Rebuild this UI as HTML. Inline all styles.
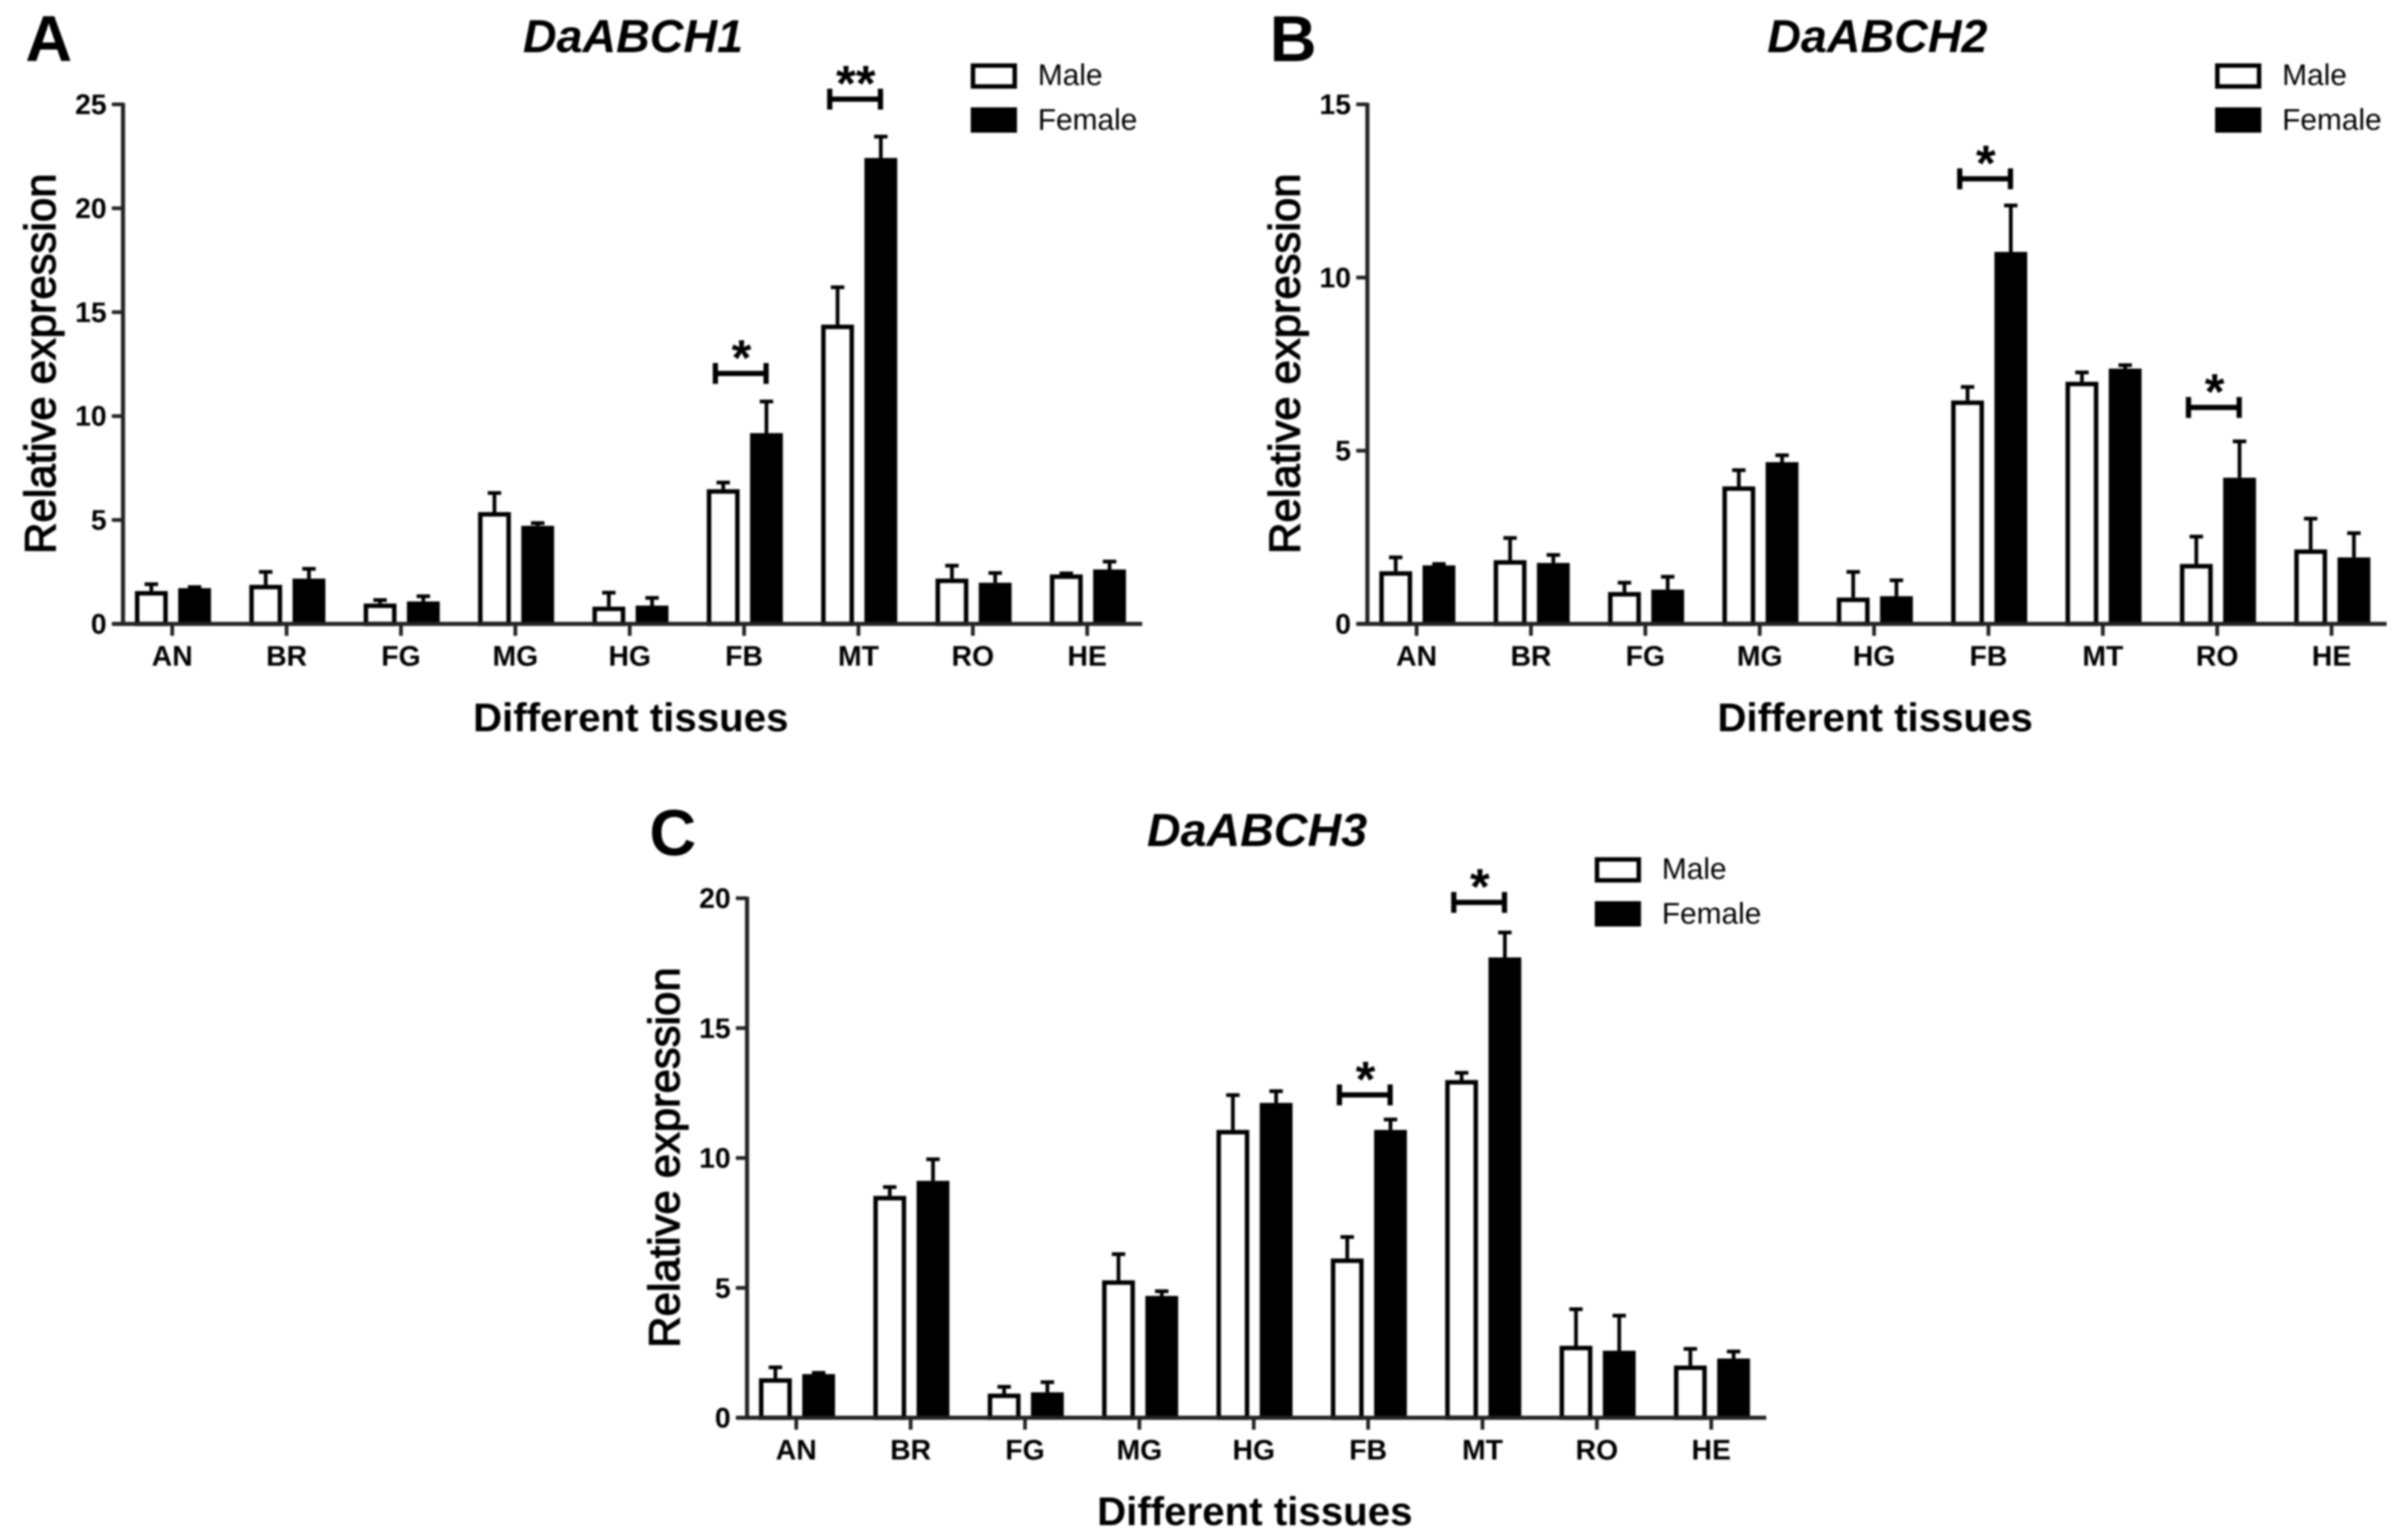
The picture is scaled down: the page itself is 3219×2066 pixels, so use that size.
<!DOCTYPE html>
<html lang="en">
<head>
<meta charset="utf-8">
<title>DaABCH relative expression in different tissues</title>
<style>
html,body{margin:0;padding:0;background:#fff;}
body{width:3219px;height:2066px;overflow:hidden;}
#figure{display:block;filter:blur(1.4px);}
text{font-family:"Liberation Sans",Arial,sans-serif;fill:#000;}
</style>
</head>
<body>
<svg id="figure" width="3219" height="2066" viewBox="0 0 3219 2066" xmlns="http://www.w3.org/2000/svg"></svg>
<script>
const categories = ['AN','BR','FG','MG','HG','FB','MT','RO','HE'];

const geneA = 'DaABCH1';
const ticksA = [0,5,10,15,20,25];
const maleA = [1.58,1.88,0.98,5.38,0.83,6.48,14.4,2.18,2.38];
const femaleA = [1.72,2.18,1.08,4.72,0.88,9.18,22.42,1.98,2.62];
const maleErrA = [0.33,0.62,0.17,0.92,0.67,0.32,1.8,0.62,0.05];
const femaleErrA = [0.05,0.47,0.25,0.13,0.37,1.52,1.03,0.47,0.38];
const sigCatsA = ['FB','MT'];
const sigLevelsA = [12.05,25.25];
const sigLabelsA = ['*','**'];

const geneB = 'DaABCH2';
const ticksB = [0,5,10,15];
const maleB = [1.52,1.84,0.92,3.97,0.76,6.45,6.99,1.73,2.15];
const femaleB = [1.69,1.76,0.99,4.67,0.8,10.74,7.37,4.22,1.92];
const maleErrB = [0.4,0.64,0.27,0.47,0.74,0.39,0.27,0.79,0.89];
const femaleErrB = [0.04,0.23,0.37,0.2,0.46,1.34,0.1,1.05,0.7];
const sigCatsB = ['FB','RO'];
const sigLevelsB = [12.85,6.25];
const sigLabelsB = ['*','*'];

const geneC = 'DaABCH3';
const ticksC = [0,5,10,15,20];
const maleC = [1.52,8.54,0.93,5.29,11.08,6.13,13.0,2.77,2.01];
const femaleC = [1.68,9.12,0.98,4.69,12.12,11.08,17.72,2.58,2.28];
const maleErrC = [0.42,0.34,0.26,1.01,1.34,0.83,0.28,1.41,0.64];
const femaleErrC = [0.05,0.83,0.39,0.18,0.45,0.4,0.96,1.35,0.27];
const sigCatsC = ['FB','MT'];
const sigLevelsC = [12.43,19.84];
const sigLabelsC = ['*','*'];

const NS = 'http://www.w3.org/2000/svg';
const root = document.getElementById('figure');
const INK = '#000';
const AXIS = '#222';

function make(parent, tag, attrs, content) {
  const el = document.createElementNS(NS, tag);
  for (const k in attrs) el.setAttribute(k, attrs[k]);
  if (content !== undefined) el.textContent = content;
  parent.appendChild(el);
  return el;
}

function drawPanel(letter, gene, ticks, male, female, maleErr, femaleErr, sigCats, sigLevels, sigLabels, axisX, y0, axisHeight) {
  const id = letter.toLowerCase();
  const panel = make(root, 'g', {});
  
  

  const yMax = ticks[ticks.length - 1];
  const yScale = v => y0 - v / yMax * axisHeight;
  const step = 153.4;
  const xScale = i => axisX + 66 + i * step;
  const barW = 44;
  const maleOffset = -28;
  const femaleOffset = 30;

  const letterEl = make(panel, 'text', {x: axisX - 131, y: y0 - 755, 'font-size': 87, 'font-weight': 'bold'}, letter);
  
  

  const titleEl = make(panel, 'text', {x: axisX + 684, y: y0 - 767, 'font-size': 62.5, 'font-weight': 'bold', 'font-style': 'italic', 'text-anchor': 'middle'}, gene);
  
  

  const yTitle = make(panel, 'text', {transform: 'translate(' + (axisX - 91) + ',' + (y0 - 349) + ') rotate(-90)', 'font-size': 58.5, 'text-anchor': 'middle', stroke: '#000', 'stroke-width': 1.6}, 'Relative expression');
  
  

  const xTitle = make(panel, 'text', {x: axisX + 681, y: y0 + 144, 'font-size': 54, 'font-weight': 'bold', 'text-anchor': 'middle'}, 'Different tissues');
  
  

  categories.forEach((cat, i) => {
    const cx = xScale(i);
    const mv = male[i], fv = female[i];
    const mx = cx + maleOffset, fx = cx + femaleOffset;

    const group = make(panel, 'g', {});
    
    

    const mErrTop = yScale(mv + maleErr[i]);
    const mStem = make(group, 'path', {d: 'M' + mx + ' ' + yScale(mv) + 'V' + mErrTop + 'M' + (mx - 9) + ' ' + mErrTop + 'H' + (mx + 9), stroke: INK, 'stroke-width': 5, fill: 'none'});
    
    

    const fErrTop = yScale(fv + femaleErr[i]);
    const fStem = make(group, 'path', {d: 'M' + fx + ' ' + yScale(fv) + 'V' + fErrTop + 'M' + (fx - 9) + ' ' + fErrTop + 'H' + (fx + 9), stroke: INK, 'stroke-width': 5, fill: 'none'});
    
    

    const mBar = make(group, 'rect', {x: mx - barW / 2 + 3, y: yScale(mv) + 3, width: barW - 6, height: Math.max(0, y0 - yScale(mv) - 3), fill: '#fff', stroke: INK, 'stroke-width': 6});
    
    

    const fBar = make(group, 'rect', {x: fx - barW / 2, y: yScale(fv), width: barW, height: y0 - yScale(fv), fill: INK});
    
    

    const tick = make(group, 'line', {x1: cx, x2: cx, y1: y0, y2: y0 + 16, stroke: AXIS, 'stroke-width': 5});
    
    

    const label = make(group, 'text', {x: cx, y: y0 + 56, 'font-size': 38, 'font-weight': 'bold', 'text-anchor': 'middle'}, cat);
    
    
  });

  const yAxis = make(panel, 'line', {x1: axisX, x2: axisX, y1: yScale(yMax) - 2, y2: y0 + 2, stroke: AXIS, 'stroke-width': 5.5});
  
  

  const xAxis = make(panel, 'line', {x1: axisX - 14, x2: axisX + 1367, y1: y0, y2: y0, stroke: AXIS, 'stroke-width': 5.5});
  
  

  ticks.forEach(t => {
    const ty = yScale(t);
    const tick = make(panel, 'line', {x1: axisX - 15, x2: axisX, y1: ty, y2: ty, stroke: AXIS, 'stroke-width': 5});
    
    
    const label = make(panel, 'text', {x: axisX - 22, y: ty + 13, 'font-size': 38, 'font-weight': 'bold', 'text-anchor': 'end'}, String(t));
    
    
  });

  sigCats.forEach((cat, i) => {
    const cx = xScale(categories.indexOf(cat)) - 4.5;
    const by = yScale(sigLevels[i]);
    const bracket = make(panel, 'path', {d: 'M' + (cx - 34) + ' ' + (by - 14) + 'V' + (by + 14) + 'M' + (cx + 34) + ' ' + (by - 14) + 'V' + (by + 14) + 'M' + (cx - 34) + ' ' + by + 'H' + (cx + 34), stroke: INK, 'stroke-width': 7, fill: 'none'});
    
    
    const star = make(panel, 'text', {x: cx + 1, y: by + 2, 'font-size': 68, 'font-weight': 'bold', 'text-anchor': 'middle'}, sigLabels[i]);
    
    
  });

  const legend = make(panel, 'g', {});
  
  
  const lx = axisX + 1137;
  const maleSwatch = make(legend, 'rect', {x: lx + 3, y: y0 - 749, width: 56, height: 28, fill: '#fff', stroke: INK, 'stroke-width': 6});
  
  
  const maleText = make(legend, 'text', {x: lx + 90, y: y0 - 723, 'font-size': 40}, 'Male');
  
  
  const femaleSwatch = make(legend, 'rect', {x: lx, y: y0 - 693, width: 62, height: 34, fill: INK});
  
  
  const femaleText = make(legend, 'text', {x: lx + 90, y: y0 - 663, 'font-size': 40}, 'Female');
  
  
}

drawPanel('A', geneA, ticksA, maleA, femaleA, maleErrA, femaleErrA, sigCatsA, sigLevelsA, sigLabelsA, 165, 837, 697);
drawPanel('B', geneB, ticksB, maleB, femaleB, maleErrB, femaleErrB, sigCatsB, sigLevelsB, sigLabelsB, 1834, 837, 697);
drawPanel('C', geneC, ticksC, maleC, femaleC, maleErrC, femaleErrC, sigCatsC, sigLevelsC, sigLabelsC, 1002, 1902, 697);
</script>
</body>
</html>
